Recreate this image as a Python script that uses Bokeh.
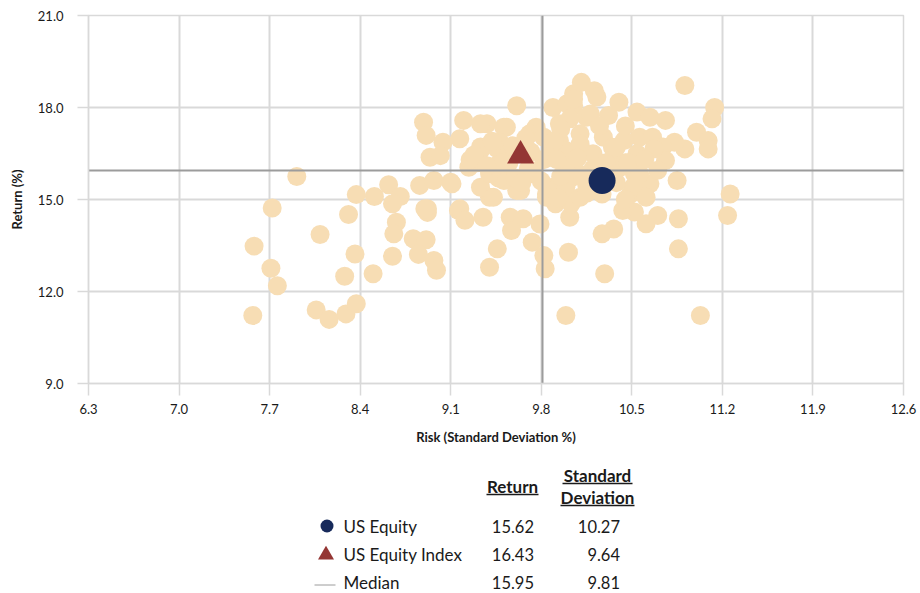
from bokeh.plotting import figure
from bokeh.layouts import column
from bokeh.models import Range1d, FixedTicker, NumeralTickFormatter
from bokeh.embed import file_html
from bokeh.resources import INLINE
from bokeh.core.properties import value

# ---------------- data ----------------
peer_risk = [
    7.91, 7.72, 7.58, 7.71, 7.76, 7.57,
    8.09, 8.06, 8.16, 8.29, 8.37, 8.28, 8.36, 8.31, 8.37, 8.51, 8.62, 8.71, 8.65, 8.68,
    8.66, 8.65, 8.50, 8.81, 8.91, 8.85, 8.97, 8.99, 8.92, 8.92, 8.86, 8.97, 9.10, 9.16,
    8.89, 8.91, 9.04, 8.94, 9.02, 9.20, 9.17, 9.33, 9.38, 9.33, 9.53, 9.51, 9.61, 9.76,
    9.71, 9.89, 9.48, 9.24, 9.11, 8.90, 9.17, 9.21, 9.35, 9.40, 9.56, 9.66, 9.57, 9.73,
    9.46, 9.40, 9.82, 9.83, 10.01, 9.82, 9.94, 10.05, 10.02, 9.84, 9.79, 9.51, 9.61, 9.33,
    9.46, 9.87, 9.94, 9.33, 9.43, 9.64, 9.47, 9.89, 9.40, 9.74, 9.91, 9.99,
    9.55, 9.70, 9.60, 9.30, 9.55, 9.25, 9.45, 9.68,
    9.28, 9.42, 9.58, 9.72, 9.68, 9.50, 9.38, 9.82, 9.80, 9.65,
    10.11, 10.21, 10.05, 10.15, 10.40, 10.32, 10.54, 10.64, 10.76, 10.91, 11.14, 11.12,
    11.00, 11.09, 11.09, 10.91, 10.83, 10.56, 10.66, 10.74, 10.76, 10.85, 10.64, 10.52,
    11.26, 11.24, 10.86, 10.86, 10.70, 10.61, 10.52, 10.43, 10.49, 10.36, 10.27, 10.29,
    10.03, 10.27, 9.84, 11.03,
    10.00, 10.05, 10.23, 10.18, 10.02, 10.10, 10.28, 10.44, 9.99, 10.20, 10.36, 10.54,
    10.67, 10.05, 10.41, 10.56, 9.99, 10.10, 10.51, 10.61, 10.03, 10.20, 10.30, 10.15,
    9.95, 10.10, 10.00, 10.30, 9.90, 10.35, 10.45, 9.85,
    9.92, 10.08, 10.12, 9.95, 10.38, 10.47, 10.60, 10.70, 10.25, 10.45, 10.38, 10.45,
    9.93, 10.15,
]
peer_return = [
    15.75, 14.72, 13.48, 12.76, 12.19, 11.22,
    13.86, 11.40, 11.09, 11.27, 11.60, 12.50, 13.22, 14.51, 15.16, 15.10, 15.48, 15.10, 14.86, 14.26,
    13.88, 13.15, 12.58, 13.72, 13.69, 13.21, 13.01, 12.69, 14.70, 14.58, 15.46, 15.62, 15.56, 14.64,
    17.52, 17.09, 16.87, 16.38, 16.43, 17.58, 16.98, 16.71, 17.47, 17.47, 17.36, 17.36, 18.06, 17.36,
    17.14, 18.00, 16.87, 16.05, 15.51, 14.70, 14.70, 14.32, 14.42, 15.07, 14.42, 14.37, 13.99, 13.61,
    13.39, 12.79, 13.17, 12.74, 13.28, 17.03, 17.47, 18.45, 14.42, 15.18, 14.20, 15.62, 15.29, 16.60,
    16.65, 16.60, 16.92, 15.40, 15.07, 15.29, 15.70, 15.40, 15.84, 15.84, 14.86, 11.22,
    16.20, 16.00, 15.70, 16.20, 16.50, 16.30, 16.10, 16.70,
    16.45, 16.90, 16.75, 16.55, 17.00, 16.20, 16.10, 16.30, 15.60, 15.55,
    18.82, 18.55, 18.06, 17.68, 18.17, 17.74, 17.85, 17.68, 17.58, 18.72, 18.00, 17.63,
    17.19, 16.92, 16.65, 16.65, 16.87, 17.03, 17.03, 16.71, 16.27, 15.62, 15.51, 15.84,
    15.18, 14.48, 14.37, 13.39, 14.48, 14.21, 14.59, 14.64, 15.18, 14.04, 13.88, 12.58,
    14.86, 15.18, 15.07, 11.22,
    18.12, 18.28, 18.34, 17.79, 17.63, 17.14, 17.03, 16.92, 16.60, 16.49, 16.38, 16.49,
    16.65, 16.05, 16.05, 15.84, 15.40, 15.07, 15.40, 15.07, 15.70, 16.00, 16.20, 15.50,
    17.30, 16.80, 16.20, 15.90, 16.90, 16.70, 16.20, 16.40,
    16.30, 16.35, 15.80, 15.75, 16.70, 16.20, 16.30, 15.95, 17.40, 17.40, 15.55, 15.00,
    15.05, 15.20,
]

names = ["US Equity", "US Equity Index", "Median"]
ret_vals = [15.62, 16.43, 15.95]
sd_vals = [10.27, 9.64, 9.81]

x_ticks = [6.3, 7.0, 7.7, 8.4, 9.1, 9.8, 10.5, 11.2, 11.9, 12.6]
y_ticks = [9.0, 12.0, 15.0, 18.0, 21.0]

header_return = "Return"
header_sd = ["Standard", "Deviation"]
x_title = "Risk (Standard Deviation %)"
y_title = "Return (%)"

# ---------------- styles ----------------
FONT = "Lato"
PEER = "#F7DDB4"
NAVY = "#172A5B"
RED = "#943634"
GRID = "#D9D9D9"
MED = "#9C9C9C"
TXT = "#1A1A1A"

W = 920
FRAME_L, FRAME_R, FRAME_T, FRAME_B = 88, 903, 15, 383
MAIN_H = 450
TOTAL_H = 593

# ---------------- main chart ----------------
p = figure(width=W, height=MAIN_H,
           x_range=Range1d(x_ticks[0], x_ticks[-1]),
           y_range=Range1d(y_ticks[0], y_ticks[-1]),
           output_backend="svg", toolbar_location=None,
           min_border_left=FRAME_L, min_border_right=W - FRAME_R,
           min_border_top=FRAME_T, min_border_bottom=MAIN_H - FRAME_B)
p.background_fill_color = "white"
p.border_fill_color = "white"
p.outline_line_color = GRID
p.outline_line_width = 1.5

p.xaxis.ticker = FixedTicker(ticks=x_ticks)
p.yaxis.ticker = FixedTicker(ticks=y_ticks)
p.xaxis.formatter = NumeralTickFormatter(format="0.0")
p.yaxis.formatter = NumeralTickFormatter(format="0.0")
for ax in (p.xaxis, p.yaxis):
    ax.axis_line_color = GRID
    ax.axis_line_width = 1.5
    ax.major_tick_line_color = GRID
    ax.major_tick_line_width = 1.5
    ax.major_tick_in = 0
    ax.minor_tick_line_color = None
    ax.major_label_text_font = FONT
    ax.major_label_text_font_size = "13px"
    ax.major_label_text_color = TXT
    ax.axis_label_text_font = FONT
    ax.axis_label_text_font_size = "13px"
    ax.axis_label_text_font_style = "bold"
    ax.axis_label_text_color = TXT
p.xaxis.major_tick_out = 12
p.yaxis.major_tick_out = 11
p.xaxis.major_label_standoff = 8
p.yaxis.major_label_standoff = 14
p.xaxis.axis_label = x_title
p.yaxis.axis_label = y_title
p.xaxis.axis_label_standoff = 12
p.yaxis.axis_label_standoff = 10

p.grid.grid_line_color = GRID
p.grid.grid_line_width = 2

p.scatter(peer_risk, peer_return, size=19, color=PEER, line_color=None)
p.hspan(y=[ret_vals[2]], line_color=MED, line_width=2)
p.vspan(x=[sd_vals[2]], line_color=MED, line_width=2)
p.scatter([sd_vals[0]], [ret_vals[0]], size=27, color=NAVY, line_color=None)
p.scatter([sd_vals[1]], [ret_vals[1]], size=27, marker="triangle", color=RED, line_color=None)

# ---------------- table legend (data units == page pixels) ----------------
q = figure(width=W, height=TOTAL_H - MAIN_H,
           x_range=Range1d(FRAME_L, FRAME_R), y_range=Range1d(TOTAL_H, MAIN_H),
           output_backend="svg", toolbar_location=None,
           min_border_left=FRAME_L, min_border_right=W - FRAME_R,
           min_border_top=0, min_border_bottom=0,
           x_axis_type=None, y_axis_type=None)
q.outline_line_color = None
q.grid.visible = False
q.background_fill_color = "white"
q.border_fill_color = "white"

ret_col_right = 533.5
sd_col_right = 619.5
ret_head_x = 512
sd_head_x = 597
label_x = 343
marker_x = 326.5

txt_kw = dict(text_font=value(FONT), text_color=TXT, text_baseline="middle")

q.text(x=[ret_head_x], y=[486], text=[header_return], text_align="center",
       text_font_size="17px", text_font_style="bold", **txt_kw)
q.text(x=[sd_head_x, sd_head_x], y=[475, 497], text=header_sd, text_align="center",
       text_font_size="17px", text_font_style="bold", **txt_kw)
q.segment(x0=[486, 562, 560], y0=[494, 483, 505],
          x1=[538, 632, 634], y1=[494, 483, 505],
          line_color=TXT, line_width=1.5)

row_y = [525.5, 553.5, 581.5]
q.text(x=[label_x] * 3, y=row_y, text=names, text_align="left",
       text_font_size="17px", **txt_kw)
q.text(x=[ret_col_right] * 3, y=row_y, text=[f"{v:.2f}" for v in ret_vals],
       text_align="right", text_font_size="16.5px", **txt_kw)
q.text(x=[sd_col_right] * 3, y=row_y, text=[f"{v:.2f}" for v in sd_vals],
       text_align="right", text_font_size="16.5px", **txt_kw)

q.scatter([marker_x], [row_y[0]], size=13, color=NAVY, line_color=None)
q.scatter([marker_x - 1], [row_y[1] + 1], size=16, marker="triangle", color=RED, line_color=None)
q.segment(x0=[314], y0=[row_y[2] + 3], x1=[335], y1=[row_y[2] + 3],
          line_color=MED, line_width=1)

layout = column(p, q, spacing=0)
open("out.html", "w").write(file_html(layout, INLINE))
